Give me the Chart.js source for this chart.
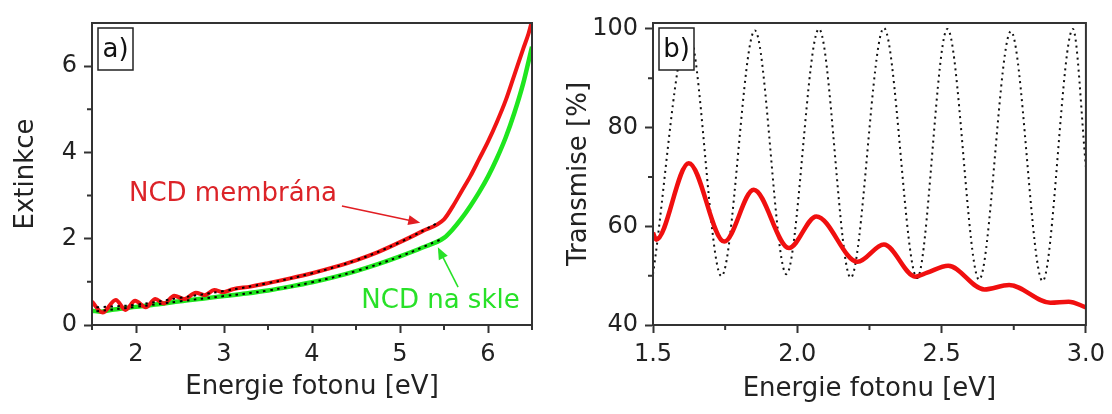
<!DOCTYPE html>
<html>
<head>
<meta charset="utf-8">
<script src="https://cdn.jsdelivr.net/npm/chart.js@4.4.1/dist/chart.umd.min.js"></script>
<style>
  html, body { margin: 0; padding: 0; background: #fff; }
  .wrap { position: absolute; top: 0; width: 556px; height: 414px; }
</style>
</head>
<body>
<div class="wrap" style="left:0"><canvas id="grafA"></canvas></div>
<div class="wrap" style="left:556px"><canvas id="grafB"></canvas></div>
<script>
// a) Extinkce - NCD membrána (červená)
const membranaX = [1.5, 1.62, 1.77, 1.88, 1.99, 2.11, 2.22, 2.32, 2.435, 2.55, 2.68, 2.78, 2.89, 2.99,
  3.1, 3.3, 3.5, 3.75, 4.0, 4.25, 4.5, 4.75, 5.0, 5.25, 5.5, 5.6, 5.7, 5.8, 5.9, 6.0, 6.1, 6.2, 6.3, 6.4, 6.46, 6.5];
const membranaY = [0.54, 0.29, 0.58, 0.35, 0.56, 0.41, 0.60, 0.50, 0.68, 0.60, 0.75, 0.69, 0.81, 0.76,
  0.83, 0.89, 0.97, 1.08, 1.20, 1.34, 1.50, 1.69, 1.92, 2.17, 2.45, 2.75, 3.10, 3.45, 3.85, 4.25, 4.70, 5.20, 5.80, 6.40, 6.75, 7.05];

// NCD na skle (zelená)
const skloX = [1.5, 1.6, 1.75, 2.0, 2.25, 2.5, 2.75, 3.0, 3.25, 3.5, 3.75, 4.0, 4.25, 4.5, 4.75, 5.0, 5.25, 5.5,
  5.6, 5.7, 5.8, 5.9, 6.0, 6.1, 6.2, 6.3, 6.4, 6.5];
const skloY = [0.33, 0.31, 0.36, 0.42, 0.48, 0.55, 0.61, 0.67, 0.73, 0.80, 0.89, 0.99, 1.11, 1.25, 1.41, 1.59, 1.79, 2.02,
  2.22, 2.47, 2.76, 3.08, 3.44, 3.86, 4.34, 4.92, 5.60, 6.45];

// fity (tečkovaně)
const fitMembranaX = [1.55, 2.0, 2.5, 3.0, 3.5, 4.0, 4.5, 5.0, 5.45];
const fitMembranaY = [0.41, 0.47, 0.63, 0.79, 0.97, 1.20, 1.50, 1.92, 2.39];
const fitSkloX = [1.55, 2.0, 2.5, 3.0, 3.5, 4.0, 4.5, 5.0, 5.45];
const fitSkloY = [0.32, 0.42, 0.55, 0.67, 0.80, 0.99, 1.25, 1.59, 1.97];

const osaXA = [2, 3, 4, 5, 6];
const osaXAmin = [1.5, 2.5, 3.5, 4.5, 5.5, 6.5];
const osaYA = [0, 2, 4, 6];
const osaYAmin = [1, 3, 5];

// b) Transmise
const transX = [1.5, 1.511, 1.624, 1.747, 1.849, 1.971, 2.066, 2.209, 2.30, 2.409, 2.45, 2.523, 2.648, 2.734, 2.877, 2.94, 3.0];
const transY = [58.7, 57.3, 72.8, 56.9, 67.4, 55.6, 62.0, 52.8, 56.3, 49.8, 50.6, 52.0, 47.2, 48.1, 44.5, 44.7, 43.6];

const modelX = [1.5, 1.623, 1.737, 1.853, 1.962, 2.075, 2.185, 2.30, 2.415, 2.52, 2.63, 2.74, 2.85, 2.955, 3.0];
const modelY = [50.3, 99.5, 49.9, 99.7, 50.3, 100.0, 49.6, 100.2, 49.5, 100.0, 49.2, 99.5, 48.9, 100.0, 72.0];

const osaXB = [1.5, 2.0, 2.5, 3.0];
const osaXBmin = [1.75, 2.25, 2.75];
const osaYB = [40, 60, 80, 100];
const osaYBmin = [50, 70, 90];

const body = (xs, ys) => xs.map((x, i) => ({ x, y: ys[i] }));

Chart.defaults.font.family = '"DejaVu Sans", sans-serif';
Chart.defaults.font.size = 24;
Chart.defaults.color = '#222';
Chart.defaults.animation = false;

const OSA = '#333';

// rámeček, vedlejší značky a štítek panelu
const ramecek = {
  id: 'ramecek',
  afterDraw(chart, args, opts) {
    const { ctx, chartArea: a, scales } = chart;
    ctx.save();
    ctx.strokeStyle = OSA;
    ctx.lineWidth = 2;
    ctx.strokeRect(a.left, a.top, a.right - a.left, a.bottom - a.top);
    ctx.beginPath();
    opts.minX.forEach(v => {
      const px = scales.x.getPixelForValue(v);
      ctx.moveTo(px, a.bottom); ctx.lineTo(px, a.bottom + 5);
    });
    opts.minY.forEach(v => {
      const py = scales.y.getPixelForValue(v);
      ctx.moveTo(a.left - 5, py); ctx.lineTo(a.left, py);
    });
    ctx.stroke();
    // štítek a) / b)
    const bx = a.left + 6, by = a.top + 5, bw = 35, bh = 42;
    ctx.fillStyle = '#fff';
    ctx.fillRect(bx, by, bw, bh);
    ctx.lineWidth = 1.5;
    ctx.strokeStyle = '#222';
    ctx.strokeRect(bx, by, bw, bh);
    ctx.fillStyle = '#111';
    ctx.font = '26px "DejaVu Sans"';
    ctx.textAlign = 'center';
    ctx.textBaseline = 'middle';
    ctx.fillText(opts.label, bx + bw / 2, by + bh / 2 + 1);
    ctx.restore();
  }
};

function sipka(ctx, x0, y0, x1, y1, barva) {
  const ang = Math.atan2(y1 - y0, x1 - x0);
  ctx.strokeStyle = barva;
  ctx.fillStyle = barva;
  ctx.lineWidth = 1.6;
  ctx.beginPath();
  ctx.moveTo(x0, y0);
  ctx.lineTo(x1 - 8 * Math.cos(ang), y1 - 8 * Math.sin(ang));
  ctx.stroke();
  ctx.beginPath();
  ctx.moveTo(x1, y1);
  ctx.lineTo(x1 - 12 * Math.cos(ang) + 5 * Math.sin(ang), y1 - 12 * Math.sin(ang) - 5 * Math.cos(ang));
  ctx.lineTo(x1 - 12 * Math.cos(ang) - 5 * Math.sin(ang), y1 - 12 * Math.sin(ang) + 5 * Math.cos(ang));
  ctx.closePath();
  ctx.fill();
}

// popisky křivek v grafu a)
const popisky = {
  id: 'popisky',
  afterDatasetsDraw(chart) {
    const { ctx, scales: { x, y } } = chart;
    ctx.save();
    ctx.font = '26px "DejaVu Sans"';
    ctx.textAlign = 'left';
    ctx.textBaseline = 'middle';
    ctx.fillStyle = 'rgb(220, 35, 40)';
    ctx.fillText('NCD membrána', x.getPixelForValue(1.92), y.getPixelForValue(3.02));
    ctx.fillStyle = 'rgb(40, 225, 40)';
    ctx.fillText('NCD na skle', x.getPixelForValue(4.56), y.getPixelForValue(0.56));
    sipka(ctx, x.getPixelForValue(4.34), y.getPixelForValue(2.76), x.getPixelForValue(5.23), y.getPixelForValue(2.37), 'rgb(225, 30, 35)');
    sipka(ctx, x.getPixelForValue(5.66), y.getPixelForValue(0.88), x.getPixelForValue(5.43), y.getPixelForValue(1.80), 'rgb(40, 225, 40)');
    ctx.restore();
  }
};

function osa(ticks, min, max, sirka, format, titul, padTitul) {
  return {
    type: 'linear', min, max,
    afterBuildTicks: s => { s.ticks = ticks.map(v => ({ value: v })); },
    afterFit: s => { if (s.isHorizontal()) s.height = sirka; else s.width = sirka; },
    grid: { drawOnChartArea: false, drawTicks: true, tickLength: 8, tickColor: OSA, tickWidth: 2 },
    border: { display: true, color: OSA, width: 2 },
    ticks: { autoSkip: false, maxRotation: 0, padding: 7, color: '#222', callback: format },
    title: { display: true, text: titul, font: { size: 26 }, color: '#222', padding: padTitul }
  };
}

new Chart(document.getElementById('grafA'), {
  type: 'line',
  data: {
    datasets: [
      { data: body(fitMembranaX, fitMembranaY), borderColor: '#000', borderWidth: 2, borderDash: [2.5, 4.5], pointRadius: 0, tension: 0.4 },
      { data: body(fitSkloX, fitSkloY), borderColor: '#000', borderWidth: 2, borderDash: [2.5, 4.5], pointRadius: 0, tension: 0.4 },
      { data: body(membranaX, membranaY), borderColor: 'rgb(240, 20, 20)', borderWidth: 4, pointRadius: 0, cubicInterpolationMode: 'monotone' },
      { data: body(skloX, skloY), borderColor: 'rgb(30, 230, 30)', borderWidth: 4.5, pointRadius: 0, cubicInterpolationMode: 'monotone' }
    ]
  },
  options: {
    responsive: true,
    maintainAspectRatio: false,
    layout: { padding: { top: 23, right: 24, left: 0, bottom: 0 } },
    plugins: {
      legend: { display: false },
      tooltip: { enabled: false },
      ramecek: { label: 'a)', minX: osaXAmin, minY: osaYAmin }
    },
    scales: {
      x: osa(osaXA, 1.5, 6.5, 89, v => String(v), 'Energie fotonu [eV]', { top: 0, bottom: 11 }),
      y: osa(osaYA, 0, 7, 92, v => String(v), 'Extinkce', { top: 11, bottom: 0 })
    }
  },
  plugins: [ramecek, popisky]
});

new Chart(document.getElementById('grafB'), {
  type: 'line',
  data: {
    datasets: [
      { data: body(transX, transY), borderColor: 'rgb(240, 15, 15)', borderWidth: 4.5, pointRadius: 0, cubicInterpolationMode: 'monotone' },
      { data: body(modelX, modelY), borderColor: '#111', borderWidth: 2, borderDash: [2, 4], pointRadius: 0, cubicInterpolationMode: 'monotone' }
    ]
  },
  options: {
    responsive: true,
    maintainAspectRatio: false,
    layout: { padding: { top: 23, right: 21, left: 0, bottom: 0 } },
    plugins: {
      legend: { display: false },
      tooltip: { enabled: false },
      ramecek: { label: 'b)', minX: osaXBmin, minY: osaYBmin }
    },
    scales: {
      x: osa(osaXB, 1.5, 3.0, 89, v => v.toFixed(1), 'Energie fotonu [eV]', { top: 0, bottom: 9 }),
      y: osa(osaYB, 40, 101.2, 97, v => String(v), 'Transmise [%]', { top: 8, bottom: 0 })
    }
  },
  plugins: [ramecek]
});
</script>
</body>
</html>
